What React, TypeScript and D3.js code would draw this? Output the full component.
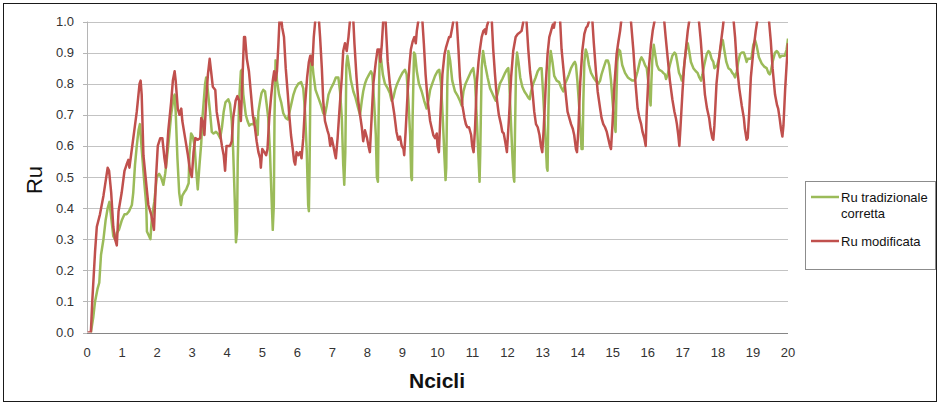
import * as d3 from 'd3'
import React, { useEffect, useRef } from 'react'

// Ncicli / Ru readings, [cycle, Ru]
const ruTradizionale: [number, number][] = [
  [0.11,0],[0.18,0.05],[0.23,0.10],[0.30,0.14],[0.35,0.16],[0.40,0.25],[0.47,0.30],[0.53,0.36],[0.59,0.40],[0.64,0.42],[0.69,0.37],[0.75,0.31],[0.80,0.30],[0.85,0.32],[0.91,0.33],[0.99,0.36],[1.07,0.38],[1.13,0.38],[1.20,0.39],[1.28,0.41],[1.32,0.45],[1.37,0.54],[1.42,0.60],[1.47,0.65],[1.51,0.67],[1.56,0.59],[1.64,0.475],[1.69,0.41],[1.71,0.325],[1.77,0.31],[1.81,0.30],[1.85,0.37],[1.92,0.42],[1.99,0.50],
  [2.06,0.51],[2.11,0.50],[2.18,0.475],[2.23,0.51],[2.28,0.56],[2.34,0.625],[2.40,0.70],[2.47,0.755],[2.50,0.765],[2.53,0.71],[2.58,0.56],[2.63,0.45],[2.68,0.41],[2.72,0.44],[2.77,0.45],[2.83,0.46],[2.90,0.48],[2.92,0.57],[2.97,0.64],[3.02,0.63],[3.07,0.60],[3.11,0.53],[3.16,0.46],[3.21,0.54],[3.26,0.61],[3.30,0.70],[3.37,0.80],[3.40,0.82],[3.45,0.775],[3.51,0.71],[3.56,0.645],[3.61,0.64],[3.68,0.645],[3.73,0.64],[3.80,0.625],[3.85,0.66],[3.90,0.71],[3.95,0.74],
  [4.03,0.75],[4.08,0.735],[4.13,0.68],[4.17,0.585],[4.22,0.41],[4.25,0.29],[4.28,0.325],[4.30,0.55],[4.34,0.745],[4.39,0.84],[4.42,0.845],[4.46,0.765],[4.53,0.70],[4.58,0.68],[4.63,0.665],[4.68,0.67],[4.75,0.67],[4.79,0.69],[4.84,0.67],[4.87,0.635],[4.89,0.71],[4.94,0.745],[4.98,0.77],
  [5.03,0.78],[5.08,0.775],[5.13,0.73],[5.17,0.69],[5.22,0.58],[5.27,0.42],[5.30,0.33],[5.33,0.41],[5.35,0.69],[5.38,0.875],[5.42,0.81],[5.48,0.765],[5.54,0.74],[5.60,0.705],[5.67,0.69],[5.73,0.685],[5.76,0.70],[5.82,0.73],[5.89,0.765],[5.95,0.785],
  [6.03,0.80],[6.11,0.805],[6.17,0.785],[6.22,0.71],[6.27,0.58],[6.31,0.41],[6.33,0.39],[6.35,0.53],[6.38,0.86],[6.41,0.89],[6.46,0.83],[6.52,0.78],[6.60,0.755],[6.68,0.73],[6.74,0.705],[6.79,0.70],[6.84,0.73],[6.89,0.765],[6.96,0.785],
  [7.03,0.80],[7.10,0.82],[7.17,0.82],[7.22,0.775],[7.27,0.69],[7.31,0.54],[7.34,0.475],[7.37,0.58],[7.40,0.86],[7.43,0.89],[7.47,0.86],[7.53,0.81],[7.60,0.775],[7.66,0.755],[7.74,0.72],[7.79,0.70],[7.84,0.745],[7.88,0.775],[7.93,0.80],[7.98,0.815],
  [8.05,0.83],[8.10,0.84],[8.14,0.83],[8.19,0.745],[8.24,0.635],[8.27,0.50],[8.30,0.485],[8.32,0.69],[8.35,0.905],[8.39,0.88],[8.44,0.83],[8.50,0.80],[8.58,0.785],[8.64,0.77],[8.69,0.745],[8.74,0.755],[8.79,0.78],[8.85,0.80],[8.93,0.82],
  [9.00,0.835],[9.07,0.845],[9.12,0.83],[9.17,0.745],[9.22,0.635],[9.25,0.50],[9.27,0.49],[9.29,0.69],[9.33,0.90],[9.36,0.895],[9.41,0.84],[9.47,0.80],[9.55,0.775],[9.62,0.745],[9.69,0.72],[9.74,0.745],[9.79,0.78],[9.85,0.80],[9.93,0.825],
  [10.00,0.84],[10.05,0.845],[10.10,0.80],[10.15,0.69],[10.20,0.56],[10.23,0.49],[10.25,0.53],[10.28,0.80],[10.31,0.905],[10.36,0.875],[10.42,0.81],[10.50,0.775],[10.58,0.76],[10.64,0.745],[10.69,0.73],[10.74,0.775],[10.80,0.80],[10.88,0.82],[10.96,0.84],
  [11.02,0.85],[11.07,0.81],[11.12,0.69],[11.17,0.56],[11.20,0.485],[11.22,0.58],[11.26,0.85],[11.30,0.905],[11.36,0.86],[11.43,0.82],[11.50,0.785],[11.56,0.77],[11.62,0.755],[11.66,0.745],[11.72,0.77],[11.78,0.80],[11.85,0.815],[11.93,0.835],[11.98,0.845],
  [12.02,0.85],[12.05,0.80],[12.09,0.69],[12.14,0.56],[12.17,0.50],[12.19,0.485],[12.21,0.635],[12.24,0.85],[12.27,0.90],[12.31,0.87],[12.36,0.82],[12.42,0.79],[12.48,0.775],[12.54,0.765],[12.59,0.755],[12.63,0.75],[12.67,0.775],[12.73,0.80],[12.80,0.82],[12.86,0.84],[12.92,0.85],[12.97,0.85],
  [13.01,0.775],[13.05,0.69],[13.09,0.605],[13.12,0.53],[13.14,0.52],[13.16,0.69],[13.19,0.85],[13.23,0.905],[13.28,0.87],[13.33,0.825],[13.40,0.81],[13.47,0.805],[13.52,0.79],[13.59,0.775],[13.64,0.80],[13.70,0.815],[13.75,0.83],[13.81,0.85],[13.88,0.865],[13.92,0.87],[13.95,0.86],[13.99,0.81],
  [14.04,0.73],[14.08,0.65],[14.11,0.59],[14.14,0.59],[14.16,0.74],[14.19,0.87],[14.23,0.91],[14.27,0.895],[14.32,0.86],[14.38,0.835],[14.45,0.82],[14.51,0.81],[14.59,0.80],[14.64,0.81],[14.68,0.83],[14.75,0.855],[14.81,0.875],[14.86,0.875],[14.90,0.86],[14.95,0.81],
  [15.00,0.735],[15.05,0.67],[15.08,0.645],[15.10,0.74],[15.13,0.87],[15.17,0.91],[15.21,0.905],[15.27,0.86],[15.35,0.835],[15.43,0.82],[15.49,0.815],[15.56,0.81],[15.62,0.81],[15.66,0.82],[15.71,0.84],[15.78,0.875],[15.82,0.885],[15.87,0.875],[15.92,0.86],[15.97,0.85],
  [16.02,0.80],[16.05,0.765],[16.08,0.73],[16.10,0.80],[16.13,0.88],[16.17,0.925],[16.21,0.895],[16.26,0.86],[16.32,0.845],[16.40,0.84],[16.44,0.835],[16.49,0.83],[16.52,0.815],[16.57,0.83],[16.63,0.86],[16.70,0.89],[16.76,0.90],[16.80,0.895],[16.84,0.87],[16.89,0.835],[16.93,0.825],[16.97,0.81],
  [17.01,0.83],[17.06,0.88],[17.11,0.925],[17.14,0.93],[17.18,0.905],[17.23,0.87],[17.30,0.85],[17.37,0.84],[17.42,0.835],[17.47,0.82],[17.52,0.81],[17.56,0.83],[17.61,0.86],[17.68,0.895],[17.73,0.905],[17.77,0.90],[17.82,0.88],[17.87,0.87],[17.90,0.85],[17.94,0.855],[17.98,0.86],
  [18.03,0.88],[18.09,0.925],[18.14,0.94],[18.18,0.91],[18.24,0.87],[18.30,0.85],[18.36,0.845],[18.41,0.835],[18.45,0.83],[18.49,0.82],[18.54,0.84],[18.58,0.87],[18.63,0.895],[18.68,0.90],[18.74,0.90],[18.77,0.89],[18.82,0.87],[18.85,0.88],[18.92,0.88],[18.96,0.885],
  [19.01,0.925],[19.06,0.94],[19.11,0.92],[19.17,0.885],[19.25,0.865],[19.32,0.855],[19.39,0.85],[19.44,0.835],[19.48,0.83],[19.51,0.84],[19.56,0.87],[19.63,0.90],[19.68,0.905],[19.72,0.90],[19.77,0.885],[19.82,0.89],[19.87,0.89],[19.91,0.89],[19.96,0.91],[20.00,0.945]
]

// peaks above 1.0 run off the top of the plot
const ruModificata: [number, number][] = [
  [0.02,0],[0.11,0],[0.15,0.10],[0.23,0.26],[0.28,0.34],[0.37,0.38],[0.47,0.44],[0.59,0.53],[0.63,0.52],[0.69,0.45],[0.75,0.34],[0.80,0.30],[0.85,0.28],[0.90,0.39],[0.99,0.45],
  [1.07,0.52],[1.13,0.54],[1.18,0.555],[1.21,0.53],[1.28,0.59],[1.35,0.65],[1.42,0.71],[1.50,0.80],[1.53,0.81],[1.56,0.765],[1.61,0.57],[1.68,0.49],[1.75,0.41],[1.83,0.38],[1.88,0.35],[1.91,0.33],[1.97,0.50],
  [2.02,0.60],[2.09,0.625],[2.15,0.625],[2.21,0.56],[2.25,0.53],[2.32,0.65],[2.40,0.74],[2.45,0.81],[2.50,0.84],[2.53,0.81],[2.59,0.72],[2.64,0.70],[2.69,0.72],[2.72,0.68],[2.80,0.625],[2.88,0.57],[2.94,0.52],[2.99,0.50],
  [3.04,0.58],[3.09,0.625],[3.16,0.62],[3.23,0.625],[3.26,0.69],[3.30,0.68],[3.35,0.635],[3.40,0.745],[3.45,0.83],[3.50,0.88],[3.54,0.84],[3.59,0.79],[3.66,0.78],[3.70,0.71],[3.77,0.66],[3.85,0.60],[3.90,0.57],[3.94,0.52],[3.98,0.60],
  [4.03,0.60],[4.08,0.60],[4.13,0.615],[4.17,0.69],[4.24,0.745],[4.29,0.76],[4.34,0.745],[4.39,0.68],[4.43,0.80],[4.48,0.95],[4.51,0.95],[4.56,0.88],[4.62,0.84],[4.68,0.765],[4.73,0.70],[4.79,0.66],[4.84,0.615],[4.89,0.58],[4.94,0.56],[4.96,0.53],
  [5.00,0.59],[5.06,0.58],[5.11,0.57],[5.15,0.59],[5.20,0.69],[5.25,0.755],[5.30,0.81],[5.34,0.84],[5.38,0.81],[5.42,0.84],[5.46,0.925],[5.49,1.0],[5.52,1.03],[5.57,0.98],[5.62,0.95],[5.67,0.85],[5.73,0.765],[5.77,0.70],[5.82,0.635],[5.87,0.59],[5.91,0.55],[5.94,0.54],[5.98,0.58],
  [6.03,0.57],[6.08,0.58],[6.12,0.56],[6.17,0.625],[6.22,0.73],[6.28,0.82],[6.33,0.87],[6.37,0.89],[6.43,0.86],[6.47,0.95],[6.51,1.0],[6.56,1.1],[6.62,1.0],[6.65,0.95],[6.70,0.85],[6.74,0.745],[6.79,0.68],[6.86,0.65],[6.90,0.635],[6.94,0.60],[6.98,0.625],
  [7.03,0.60],[7.08,0.57],[7.10,0.56],[7.15,0.625],[7.20,0.71],[7.27,0.82],[7.31,0.905],[7.36,0.93],[7.41,0.905],[7.46,0.95],[7.50,1.0],[7.55,1.1],[7.60,1.0],[7.63,0.93],[7.69,0.82],[7.74,0.745],[7.79,0.70],[7.84,0.66],[7.88,0.615],[7.93,0.65],[7.99,0.625],
  [8.03,0.60],[8.07,0.58],[8.12,0.69],[8.17,0.80],[8.24,0.87],[8.29,0.91],[8.34,0.91],[8.37,0.87],[8.41,0.925],[8.45,1.0],[8.49,1.06],[8.52,1.0],[8.58,0.87],[8.64,0.80],[8.71,0.745],[8.77,0.70],[8.83,0.645],[8.88,0.62],[8.93,0.63],[8.98,0.60],
  [9.03,0.59],[9.05,0.57],[9.09,0.645],[9.15,0.775],[9.20,0.86],[9.24,0.91],[9.29,0.935],[9.34,0.95],[9.38,0.93],[9.41,0.97],[9.45,1.0],[9.50,1.1],[9.57,1.0],[9.61,0.93],[9.66,0.83],[9.72,0.745],[9.79,0.68],[9.83,0.66],[9.88,0.635],[9.93,0.625],[9.98,0.64],
  [10.00,0.60],[10.04,0.58],[10.08,0.69],[10.14,0.83],[10.20,0.895],[10.24,0.915],[10.29,0.935],[10.33,0.95],[10.37,0.95],[10.42,0.98],[10.45,1.0],[10.50,1.1],[10.55,1.0],[10.60,0.905],[10.64,0.82],[10.71,0.73],[10.77,0.69],[10.81,0.67],[10.85,0.66],[10.90,0.66],[10.96,0.635],[10.99,0.60],
  [11.03,0.58],[11.07,0.655],[11.12,0.80],[11.17,0.87],[11.21,0.91],[11.26,0.95],[11.31,0.97],[11.36,0.975],[11.38,0.96],[11.41,0.985],[11.45,1.0],[11.50,1.1],[11.55,1.0],[11.59,0.91],[11.64,0.83],[11.70,0.745],[11.75,0.70],[11.81,0.67],[11.85,0.645],[11.89,0.64],[11.93,0.615],[11.98,0.58],
  [12.04,0.69],[12.10,0.82],[12.16,0.905],[12.23,0.95],[12.29,0.96],[12.35,0.965],[12.40,0.97],[12.45,1.0],[12.50,1.1],[12.54,1.0],[12.59,0.91],[12.64,0.84],[12.71,0.775],[12.76,0.71],[12.81,0.67],[12.86,0.66],[12.91,0.635],[12.95,0.60],[12.99,0.58],
  [13.03,0.655],[13.09,0.80],[13.14,0.895],[13.19,0.95],[13.24,0.97],[13.29,0.99],[13.32,0.98],[13.35,1.0],[13.42,1.12],[13.50,1.0],[13.54,0.91],[13.60,0.84],[13.66,0.765],[13.71,0.71],[13.76,0.69],[13.81,0.67],[13.86,0.655],[13.90,0.635],[13.95,0.59],[13.98,0.58],
  [14.02,0.655],[14.07,0.80],[14.13,0.905],[14.19,0.96],[14.24,0.98],[14.28,0.985],[14.32,1.0],[14.37,1.1],[14.42,1.0],[14.46,0.93],[14.52,0.84],[14.57,0.775],[14.64,0.72],[14.68,0.69],[14.73,0.67],[14.78,0.66],[14.83,0.645],[14.87,0.625],[14.92,0.60],[14.95,0.59],[14.99,0.665],
  [15.05,0.80],[15.11,0.895],[15.16,0.935],[15.21,0.97],[15.24,1.0],[15.38,1.2],[15.52,1.0],[15.59,0.905],[15.65,0.80],[15.71,0.72],[15.76,0.69],[15.81,0.67],[15.85,0.645],[15.90,0.625],[15.94,0.60],[15.97,0.71],
  [16.03,0.85],[16.09,0.925],[16.14,0.97],[16.19,1.0],[16.33,1.2],[16.47,1.0],[16.51,0.95],[16.57,0.88],[16.63,0.81],[16.70,0.75],[16.76,0.71],[16.80,0.69],[16.83,0.67],[16.87,0.635],[16.90,0.60],[16.93,0.655],[16.99,0.775],
  [17.04,0.86],[17.09,0.915],[17.14,0.97],[17.18,1.0],[17.32,1.2],[17.46,1.0],[17.51,0.94],[17.57,0.85],[17.63,0.765],[17.69,0.72],[17.75,0.69],[17.79,0.655],[17.84,0.625],[17.87,0.62],[17.90,0.665],[17.96,0.80],
  [18.03,0.88],[18.09,0.935],[18.14,0.98],[18.16,1.0],[18.31,1.2],[18.45,1.0],[18.49,0.95],[18.54,0.86],[18.61,0.785],[18.68,0.73],[18.74,0.69],[18.77,0.655],[18.82,0.62],[18.85,0.625],[18.89,0.70],[18.94,0.82],
  [19.01,0.905],[19.08,0.97],[19.12,1.0],[19.29,1.2],[19.46,1.0],[19.51,0.935],[19.56,0.85],[19.63,0.765],[19.69,0.73],[19.72,0.72],[19.76,0.69],[19.80,0.655],[19.84,0.63],[19.87,0.665],[19.92,0.785],[19.96,0.86],[20.00,0.93]
]

const yTicks = [0, 0.1, 0.2, 0.3, 0.4, 0.5, 0.6, 0.7, 0.8, 0.9, 1.0]
const xTicks = d3.range(0, 21)
const seriesNames = ['Ru tradizionale corretta', 'Ru modificata']
const seriesColors = ['#9bbb59', '#c0504d']

const W = 939
const H = 405
const font = '"Liberation Sans", Arial, sans-serif'

export default function App() {
  const ref = useRef<SVGSVGElement>(null)

  useEffect(() => {
    const svg = d3.select(ref.current)
    svg.selectAll('*').remove()

    const x = d3.scaleLinear().domain([0, 20]).range([87, 788])
    const y = d3.scaleLinear().domain([0, 1]).range([332.5, 21.5])

    svg.append('rect').attr('width', W).attr('height', H).attr('fill', '#fff')
    svg.append('rect')
      .attr('x', 3.5).attr('y', 3.5).attr('width', 933).attr('height', 398)
      .attr('fill', 'none').attr('stroke', '#1a1a1a').attr('stroke-width', 1)

    svg.append('defs').append('clipPath').attr('id', 'plot-clip')
      .append('rect').attr('x', 87).attr('y', y(1)).attr('width', 701).attr('height', y(0) - y(1))

    // gridlines
    svg.append('g').selectAll('line').data(yTicks.filter(d => d > 0)).enter().append('line')
      .attr('x1', 87).attr('x2', 788)
      .attr('y1', d => Math.round(y(d)) + 0.5).attr('y2', d => Math.round(y(d)) + 0.5)
      .attr('stroke', '#c3c3c3').attr('stroke-width', 1.2)

    // y axis
    const yAxis = svg.append('g')
    yAxis.append('line').attr('x1', 87.5).attr('x2', 87.5).attr('y1', y(1)).attr('y2', y(0))
      .attr('stroke', '#b5b5b5')
    yAxis.selectAll('.tick').data(yTicks).enter().append('line')
      .attr('x1', 83).attr('x2', 87)
      .attr('y1', d => Math.round(y(d)) + 0.5).attr('y2', d => Math.round(y(d)) + 0.5)
      .attr('stroke', '#b5b5b5')
    yAxis.selectAll('text').data(yTicks).enter().append('text')
      .attr('x', 74).attr('y', d => y(d) + 4.5)
      .attr('text-anchor', 'end')
      .attr('font-family', font).attr('font-size', 13).attr('fill', '#333')
      .text(d => d3.format('.1f')(d))

    // x axis
    const xAxis = svg.append('g')
    xAxis.append('line').attr('x1', 87).attr('x2', 788).attr('y1', 333.5).attr('y2', 333.5)
      .attr('stroke', '#868686').attr('stroke-width', 1.2)
    xAxis.selectAll('text').data(xTicks).enter().append('text')
      .attr('x', d => x(d)).attr('y', 357)
      .attr('text-anchor', 'middle')
      .attr('font-family', font).attr('font-size', 13).attr('fill', '#333')
      .text(d => String(d))

    // titles
    svg.append('text')
      .attr('transform', 'translate(42,180) rotate(-90)')
      .attr('text-anchor', 'middle')
      .attr('font-family', font).attr('font-size', 22).attr('fill', '#111')
      .text('Ru')
    svg.append('text')
      .attr('x', 437).attr('y', 388)
      .attr('text-anchor', 'middle')
      .attr('font-family', font).attr('font-size', 21).attr('font-weight', 'bold').attr('fill', '#111')
      .text('Ncicli')

    // series
    const line = d3.line<[number, number]>().x(d => x(d[0])).y(d => y(d[1]))
    const plot = svg.append('g').attr('clip-path', 'url(#plot-clip)')
    ;[ruTradizionale, ruModificata].forEach((data, i) => {
      plot.append('path').datum(data)
        .attr('d', line)
        .attr('fill', 'none')
        .attr('stroke', seriesColors[i])
        .attr('stroke-width', 2.5)
        .attr('stroke-linejoin', 'round')
    })

    // legend
    const legend = svg.append('g')
    legend.append('rect')
      .attr('x', 805.5).attr('y', 181.5).attr('width', 130).attr('height', 88)
      .attr('fill', '#fff').attr('stroke', '#8c8c8c')
    const rows = [197, 241]
    rows.forEach((ly, i) => {
      legend.append('line').attr('x1', 811).attr('x2', 839).attr('y1', ly).attr('y2', ly)
        .attr('stroke', seriesColors[i]).attr('stroke-width', 2.5)
    })
    legend.append('text').attr('x', 841).attr('y', 202)
      .attr('font-family', font).attr('font-size', 13).attr('fill', '#111')
      .text('Ru tradizionale')
    legend.append('text').attr('x', 841).attr('y', 218)
      .attr('font-family', font).attr('font-size', 13).attr('fill', '#111')
      .text('corretta')
    legend.append('text').attr('x', 841).attr('y', 246)
      .attr('font-family', font).attr('font-size', 13).attr('fill', '#111')
      .text(seriesNames[1])
  }, [])

  return (
    <svg
      ref={ref}
      width={W}
      height={H}
      style={{ position: 'absolute', left: 0, top: 0, display: 'block' }}
    />
  )
}
